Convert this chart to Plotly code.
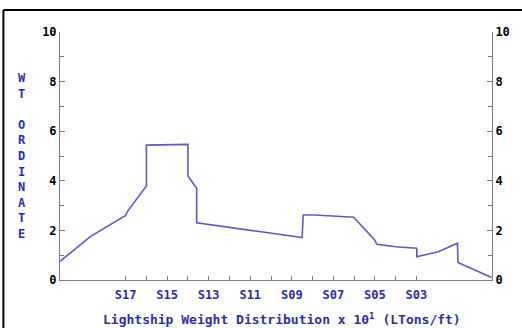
import plotly.graph_objects as go

# Lightship weight distribution along the hull (station number vs. weight ordinate)
stations = [20.16, 18.7, 17.0, 16.9, 16.0, 16.0, 14.0, 14.0, 13.58, 13.58,
            8.5, 8.45, 7.89, 6.02, 5.01, 4.9, 4.0, 2.98, 2.98, 1.95,
            1.02, 1.0, -0.62]
weights = [0.75, 1.75, 2.6, 2.78, 3.79, 5.44, 5.47, 4.19, 3.70, 2.31,
           1.71, 2.62, 2.62, 2.53, 1.61, 1.44, 1.34, 1.28, 0.94, 1.14,
           1.48, 0.71, 0.1]

label_stations = [17, 15, 13, 11, 9, 7, 5, 3]
label_text = ["S17", "S15", "S13", "S11", "S09", "S07", "S05", "S03"]
minor_stations = [16, 14, 12, 10, 8, 6, 4]

blue_text = "#2e2ea8"
line_blue = "#5c5cc4"
axis_gray = "#7a7a7a"
mono = "DejaVu Sans Mono"

fig = go.Figure()
fig.add_trace(go.Scatter(
    x=stations, y=weights, mode="lines",
    line=dict(color=line_blue, width=1.6),
    hoverinfo="skip", showlegend=False,
))
# invisible trace that carries the right-hand ordinate scale
fig.add_trace(go.Scatter(
    x=[stations[0]], y=[0], yaxis="y2", mode="markers",
    marker=dict(opacity=0), hoverinfo="skip", showlegend=False,
))

yaxis_common = dict(
    range=[0, 10], tickvals=[0, 2, 4, 6, 8, 10],
    ticks="inside", ticklen=5, tickwidth=1, tickcolor=axis_gray,
    minor=dict(tickvals=[1, 3, 5, 7, 9], ticks="inside", ticklen=4,
               tickcolor=axis_gray),
    showline=True, linecolor=axis_gray, linewidth=1,
    showgrid=False, zeroline=False,
    tickfont=dict(family=mono, size=12, color="black", weight="bold"),
    fixedrange=True,
)

fig.update_layout(
    width=522, height=328,
    margin=dict(l=60, r=28, t=32, b=48),
    paper_bgcolor="white", plot_bgcolor="white",
    xaxis=dict(
        range=[20.16, -0.64],
        tickvals=label_stations, ticktext=label_text,
        ticks="inside", ticklen=4, tickcolor=axis_gray,
        minor=dict(tickvals=minor_stations, ticks="inside", ticklen=4,
                   tickcolor=axis_gray),
        showline=True, linecolor=axis_gray, linewidth=1,
        showgrid=False, zeroline=False,
        tickfont=dict(family=mono, size=12, color=blue_text, weight="bold"),
        ticklabelstandoff=4,
    ),
    yaxis=dict(side="left", **yaxis_common),
    yaxis2=dict(side="right", overlaying="y", **yaxis_common),
    shapes=[
        # window frame: left and top edges
        dict(type="line", xref="paper", yref="paper",
             x0=-0.131, x1=-0.131, y0=-0.3, y1=1.089,
             line=dict(color="black", width=2)),
        dict(type="line", xref="paper", yref="paper",
             x0=-0.131, x1=1.1, y0=1.089, y1=1.089,
             line=dict(color="black", width=2)),
    ],
    annotations=[
        dict(text="W<br>T<br> <br>O<br>R<br>D<br>I<br>N<br>A<br>T<br>E",
             xref="paper", yref="paper", x=-0.0876, y=0.502,
             xanchor="center", yanchor="middle",
             showarrow=False, align="center",
             font=dict(family=mono, size=12, color=blue_text, weight="bold")),
        dict(text="Lightship Weight Distribution x 10<sup>1</sup> (LTons/ft)",
             xref="paper", yref="paper", x=0.515, y=-0.158,
             xanchor="center", yanchor="middle",
             showarrow=False,
             font=dict(family=mono, size=13, color=blue_text, weight="bold")),
    ],
)

fig.write_html("out.html")
